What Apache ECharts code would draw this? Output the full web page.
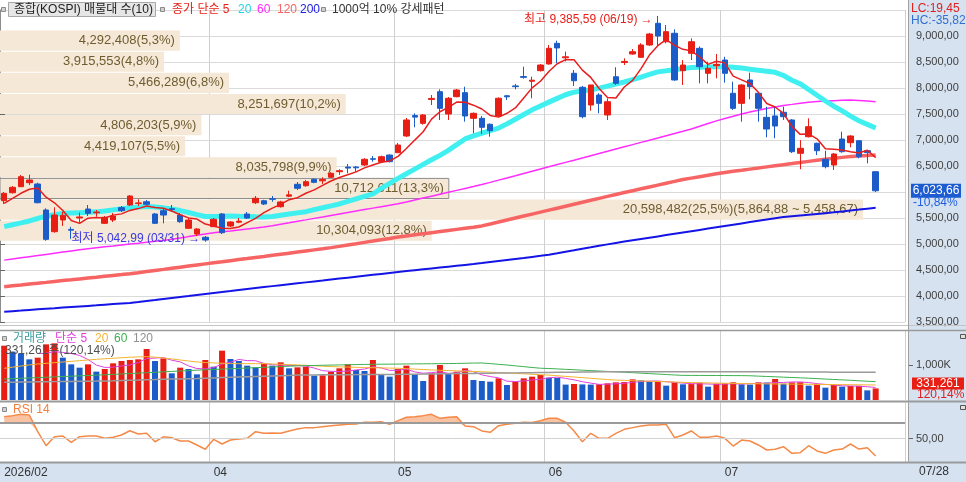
<!DOCTYPE html>
<html><head><meta charset="utf-8">
<script src="https://cdn.jsdelivr.net/npm/echarts@6/dist/echarts.min.js"></script>
<style>
html,body{margin:0;padding:0;background:#fff;}
#wrap{position:relative;width:966px;height:482px;background:#fff;overflow:hidden;}
#panelR{position:absolute;left:908px;top:0;width:58px;height:482px;background:#d6e2f0;}
#panelB{position:absolute;left:0;top:463px;width:966px;height:19px;background:#d6e2f0;}
#c{position:absolute;left:0;top:0;width:966px;height:482px;}
</style>
</head><body>
<div id="wrap"><div id="panelR"></div><div id="panelB"></div><div id="c"></div></div>
<script>
// ---------------- data ----------------
const dates = [
'2026/02/24','2026/02/25','2026/02/26','2026/02/27',
'2026/03/03','2026/03/04','2026/03/05','2026/03/06','2026/03/09','2026/03/10','2026/03/11','2026/03/12','2026/03/13','2026/03/16','2026/03/17','2026/03/18','2026/03/19','2026/03/20','2026/03/23','2026/03/24','2026/03/25','2026/03/26','2026/03/27','2026/03/30','2026/03/31',
'2026/04/01','2026/04/02','2026/04/03','2026/04/06','2026/04/07','2026/04/08','2026/04/09','2026/04/10','2026/04/13','2026/04/14','2026/04/15','2026/04/16','2026/04/17','2026/04/20','2026/04/21','2026/04/22','2026/04/23','2026/04/24','2026/04/27','2026/04/28','2026/04/29','2026/04/30',
'2026/05/04','2026/05/06','2026/05/07','2026/05/08','2026/05/11','2026/05/12','2026/05/13','2026/05/14','2026/05/15','2026/05/18','2026/05/19','2026/05/20','2026/05/21','2026/05/22','2026/05/26','2026/05/27','2026/05/28','2026/05/29',
'2026/06/01','2026/06/02','2026/06/04','2026/06/05','2026/06/08','2026/06/09','2026/06/10','2026/06/11','2026/06/12','2026/06/15','2026/06/16','2026/06/17','2026/06/18','2026/06/19','2026/06/22','2026/06/23','2026/06/24','2026/06/25','2026/06/26','2026/06/29','2026/06/30',
'2026/07/01','2026/07/02','2026/07/03','2026/07/06','2026/07/07','2026/07/08','2026/07/09','2026/07/10','2026/07/13','2026/07/14','2026/07/15','2026/07/16','2026/07/20','2026/07/21','2026/07/22','2026/07/23','2026/07/24','2026/07/27','2026/07/28'];

const open = [5833,5986,6102,6179,6154,5654,5237,5461,5280,5500, 5673,5600,5398,5461,5700,5750,5780,5813,5577,5640,
5680,5557,5302,5192,5129,5333,5577,5346,5420,5577, 5794,5832,5870,5717,5920,6148,6121,6244,6215,6283,
6390,6480,6480,6519,6640,6583,6711,6756,7077,7470, 7321,7780,7929,7500,7833,7910,7417,7417,7302,7462,
7850,8040,8220,8130,8333,8462,8859,8580,8283,8013, 7673,7865,7481,8217,8490,8654,8590,8827,9244,8890,
9052,8333,8667,8763,8283,8430,8538,7898,7705,8154, 7898,7436,7462,7533,7385,6744,7063,6936,6629,6519,
7019,6948,6986,6794,6390];
const close = [5975,6090,6294,6231,5794,5090,5557,5550,5265,5520, 5590,5615,5513,5538,5640,5923,5790,5763,5398,5557,
5665,5429,5461,5288,5077,5475,5217,5423,5440,5500, 5879,5769,5860,5808,5945,6071,6198,6186,6240,6359,
6410,6460,6465,6629,6630,6679,6583,6904,7385,7440, 7481,7800,7609,7802,7961,7462,7513,7244,7179,7802,
7830,8025,8205,8150,8442,8763,8770,8600,8140,7448, 8058,7705,7736,8090,8510,8698,8827,9038,9000,9083,
8154,8442,8890,8410,8379,8455,8283,7609,8058,8025, 7609,7211,7269,7448,6775,6840,7256,6794,6487,6731,
6775,7077,6679,6756.06,6023.66];
const low = [5769,5971,6096,6134,5783,5063,5217,5346,5100,5410, 5538,5525,5384,5423,5615,5731,5731,5750,5384,5398,
5621,5410,5288,5154,5042.99,5327,5192,5327,5400,5481, 5769,5750,5813,5700,5900,6038,6100,6170,6154,6270,
6327,6360,6390,6500,6583,6570,6570,6750,7058,7244, 7294,7673,7385,7385,7820,7352,7129,7115,7063,7450,
7769,7975,8180,7802,8320,8450,8475,8510,8038,7417, 7563,7513,7385,8058,8442,8640,8580,8810,8808,8860,
8140,8058,8538,8090,8090,8186,8102,7577,7352,7782, 7352,7052,7033,7385,6750,6437,7050,6711,6455,6423,
6756,6860,6648,6552,6000];
const high = [6000,6115,6327,6333,6179,5686,5706,5621,5330,5602, 5750,5654,5538,5596,5731,5942,5860,5846,5596,5686,
5750,5596,5500,5307,5154,5500,5596,5440,5500,5615, 5923,5850,5923,5830,6025,6192,6230,6260,6283,6380,
6437,6538,6500,6650,6692,6700,6720,6942,7423,7513, 7500,7865,7975,7827,7980,8025,7530,7462,7320,7820,
7865,8077,8410,8217,8460,8827,8910,8700,8346,8040, 8060,7900,7800,8398,8571,8750,8860,9060,9385.59,9211,
9129,8538,8955,8800,8506,8654,8600,8121,8070,8294, 7920,7640,7640,7640,7400,6999,7417,6950,6794,6750,
7160,7090,7000,6810,6400];

// moving averages (5-day is taken from the closes)
const ma5Head = [5782,5879,5975,6052];
const ma20 = [5333,5370,5406,5443,5490,5535,5565,5585,5596,5603, 5610,5618,5635,5656,5677,5698,5712,5720,5712,5695,
5672,5643,5605,5566,5530,5530,5535,5538,5533,5529, 5524,5520,5530,5553,5576,5599,5622,5660,5697,5733,
5770,5818,5866,5914,5962,6070,6166,6262,6350,6440, 6530,6620,6705,6800,6910,7020,7080,7130,7180,7230,
7310,7400,7490,7580,7655,7728,7800,7870,7920,7945, 7960,7998,8037,8076,8115,8162,8211,8260,8310,8330,
8352,8373,8395,8400,8404,8407,8410,8400,8383,8362, 8342,8322,8302,8240,8150,8080,7970,7860,7750,7650,
7560,7460,7370,7300,7230];
const ma60 = [4690,4712,4734,4756,4778,4800,4822,4844,4866,4888, 4910,4928,4945,4962,4980,4998,5015,5033,5051,5068,
5090,5116,5142,5167,5193,5215,5234,5252,5271,5289, 5307,5326,5350,5379,5407,5436,5464,5493,5521,5550,
5578,5606,5634,5662,5690,5718,5746,5775,5809,5846, 5883,5920,5957,5994,6031,6068,6105,6143,6185,6228,
6271,6313,6356,6399,6442,6484,6527,6570,6612,6655, 6698,6741,6783,6826,6869,6911,6954,6997,7039,7082,
7125,7167,7213,7264,7316,7368,7415,7457,7499,7540, 7572,7604,7636,7665,7685,7706,7727,7742,7750,7757,
7764,7768,7760,7750,7736];
const ma120 = [4179,4196,4212,4229,4246,4262,4279,4296,4312,4329, 4346,4362,4379,4396,4412,4429,4449,4470,4491,4512,
4534,4555,4576,4597,4618,4639,4659,4680,4700,4720, 4741,4761,4782,4803,4824,4845,4866,4887,4908,4930,
4954,4980,5005,5031,5056,5082,5107,5133,5155,5176, 5197,5218,5239,5260,5281,5302,5323,5348,5385,5423,
5461,5499,5537,5575,5613,5651,5689,5727,5765,5802, 5840,5878,5916,5953,5989,6025,6061,6097,6133,6169,
6205,6239,6267,6295,6323,6351,6376,6397,6418,6440, 6461,6483,6504,6525,6546,6568,6589,6610,6629,6648,
6666,6682,6692,6701,6711];
const ma200 = [3698,3709,3720,3732,3743,3754,3765,3777,3788,3799, 3810,3821,3833,3844,3855,3866,3883,3902,3921,3941,
3960,3979,3998,4018,4037,4056,4075,4094,4114,4133, 4152,4171,4190,4208,4226,4244,4262,4280,4298,4317,
4335,4353,4371,4389,4407,4425,4443,4461,4479,4496, 4513,4530,4547,4564,4581,4598,4615,4633,4653,4673,
4693,4713,4732,4752,4772,4794,4822,4851,4879,4908, 4936,4965,4993,5021,5046,5071,5096,5121,5146,5171,
5196,5221,5246,5271,5296,5321,5346,5371,5396,5421, 5446,5471,5496,5518,5533,5548,5563,5578,5593,5609,
5627,5645,5662,5680,5698];

const volume = [1552000,1381000,1333000,1162000,1210000,1590000,1619000,1210000,1019000,924000,
1019000,810000,886000,1048000,1114000,1143000,1162000,1457000,1114000,1190000,
762000,924000,886000,733000,1143000,952000,1410000,1171000,1114000,981000,
933000,1029000,981000,1076000,905000,933000,952000,695000,705000,810000,
905000,1019000,857000,829000,1143000,733000,667000,886000,981000,743000,
543000,762000,1000000,762000,810000,905000,571000,543000,524000,619000,
429000,524000,619000,667000,714000,638000,630000,440000,458000,445000,
440000,448000,476000,505000,512000,590000,562000,524000,530000,410000,
505000,448000,455000,495000,381000,467000,475000,505000,448000,440000,
505000,498000,600000,467000,505000,510000,410000,448000,352000,429000,
381000,400000,405000,275730,331261];
const vma20 = [905,938,970,1003,1029,1048,1067,1086,1105,1124, 1143,1162,1178,1193,1208,1223,1232,1238,1225,1200,
1172,1143,1115,1086,1070,1060,1050,1041,1038,1038, 1038,1038,1029,1019,1010,1001,990,978,966,954,
948,941,934,926,922,917,912,907,895,883, 871,859,850,842,833,824,815,807,795,783,
771,759,747,735,723,711,693,675,657,639, 620,602,584,569,561,553,545,537,529,521,
513,503,498,493,488,484,479,474,469,466, 464,461,459,457,454,452,449,447,444,442,
439,437,434,432,429];
const vma60 = [600,610,620,630,640,650,660,670,680,690, 700,710,720,732,744,756,768,780,792,804,
816,828,840,852,862,872,883,893,903,914, 924,934,945,955,966,976,982,987,992,997,
1002,1007,1012,1017,1020,1023,1025,1027,1030,1032, 1034,1036,1038,1041,1044,1050,1055,1058,1040,1020,
1000,976,953,929,908,900,888,876,864,852, 840,828,816,806,793,780,767,754,741,728,
715,704,703,702,701,700,698,697,696,692, 682,672,663,653,643,633,623,611,599,587,
575,563,549,536,524];
const vma120 = [505,508,512,515,518,521,525,528,531,534, 538,541,546,552,559,565,571,578,584,591,
597,603,610,616,624,632,640,648,656,664, 672,680,687,695,703,711,716,717,719,720,
722,723,725,727,728,730,731,733,736,739, 742,745,748,751,754,757,760,763,766,769,
772,775,778,781,784,787,790,793,796,799, 802,805,808,810,810,810,810,810,810,810,
810,810,810,810,810,810,810,810,810,809, 808,806,805,804,802,801,800,798,797,796,
794,793,792,791,790];

const rsi = [76.9,78.2,79.8,79,58.4,41.1,52.2,53.1,45.3,52.2, 53.1,53.1,50.2,51.5,54.3,59.6,55.6,56.4,46,52,
51,46.9,46.9,42,36.7,49,43.2,48.1,49.4,50.2, 58.4,56.4,56.8,56.4,59.3,61.7,63.4,63.4,64.6,65.8,
66.7,67.5,67.9,70,70,70.7,67.5,72,76.2,76.9, 78.2,79.8,74.9,76.2,76.9,65.4,64.6,59.3,57.6,65.8,
67.5,68.8,70,69.6,72,74.9,74.9,70,59.3,46, 56.4,50.2,50.2,56.4,61.3,63.4,65.4,66.7,66.7,67.5,
51,54.3,59.3,51.5,51.5,53.1,50.2,40.7,48.1,46.9, 42,35.8,36.7,39.9,31.7,32.5,41.1,34.6,31.7,35.8,
37,43.2,37,38.6,28.4];

// volume-at-price (매물대) bands
const profileLow  = [8708.35,8302.14,7895.93,7489.72,7083.51,6677.30,6271.09,5864.88,5458.67,5052.46];
const profileHigh = [9114.56,8708.35,8302.14,7895.93,7489.72,7083.51,6677.30,6271.09,5864.88,5458.67];
const profileVol  = [4292408,3915553,5466289,8251697,4806203,4419107,8035798,10712611,20598482,10304093];

// x tick labels
const xTickIndex  = [0,25,47,65,86];
const xTickLabels = ['2026/02','04','05','06','07'];

// ---------------- helpers ----------------
const FONT = '"Liberation Sans", "Noto Sans CJK KR", sans-serif';
const RED = '#e81e14', BLUE = '#1c5cc8';
function fmtNum(v, d) {
  const s = Math.abs(v).toFixed(d);
  let [ip, fp] = s.split('.');
  ip = ip.replace(/\B(?=(\d{3})+(?!\d))/g, ',');
  return (v < 0 ? '-' : '') + ip + (fp ? ',' + fp : '');
}
const N = dates.length;
const cats = dates.concat(['', '', '']);
const lastClose = close[N-1], prevClose = close[N-2];
const lastVol = volume[N-1], prevVol = volume[N-2];
let hiIdx = 0, loIdx = 0;
high.forEach((h,i)=>{ if (h > high[hiIdx]) hiIdx = i; });
low.forEach((l,i)=>{ if (l < low[loIdx]) loIdx = i; });
const maxHigh = high[hiIdx], minLow = low[loIdx];
const ohlc = dates.map((_,i)=>[open[i], close[i], low[i], high[i]]);
const mean = a => a.reduce((s,x)=>s+x,0)/a.length;
const ma5 = close.map((c,i)=> i<4 ? ma5Head[i] : mean(close.slice(i-4,i+1)));
const vma5 = volume.map((v,i)=> i<4 ? null : mean(volume.slice(i-4,i+1)));
const K = a => a.map(v => v*1000);
const volBars = volume.map((v,i)=>({value:v, itemStyle:{color:(i===0 || v>volume[i-1]) ? RED : BLUE}}));
const rsiBase = rsi.map(v=>Math.min(v,70));
const rsiOver = rsi.map(v=>Math.max(v-70,0));
const profTotal = profileVol.reduce((a,b)=>a+b,0);
let profMax = 0; profileVol.forEach((v,i)=>{ if (v>profileVol[profMax]) profMax=i; });
const splitIdx = xTickIndex.filter(i => i > 0);

function catAxis(gi, showLabel){
  return {type:'category', gridIndex:gi, data:cats, boundaryGap:true,
    axisLine:{show:false}, axisTick:{show:false},
    axisLabel: showLabel ? {show:true, interval:(i)=>xTickIndex.includes(i),
      formatter:(v,i)=>{const k=xTickIndex.indexOf(i); return k>=0?xTickLabels[k]:'';},
      align:'left', margin:5, color:'#333', fontSize:12, fontFamily:FONT} : {show:false},
    splitLine:{show:true, interval:(i)=>splitIdx.includes(i), lineStyle:{color:'#d0d0d0', width:1}}};
}
function lineS(data, color, width, xi, yi, z){
  return {type:'line', data, xAxisIndex:xi, yAxisIndex:yi, showSymbol:false, symbol:'none',
    lineStyle:{color, width}, itemStyle:{color}, z, silent:true, connectNulls:false};
}
const axisCommon = {axisLine:{show:true, lineStyle:{color:'#8c8c8c'}},
  axisTick:{show:true, length:5, lineStyle:{color:'#666'}}};

const option = {
  animation:false,
  grid:[
    {left:0, right:61, top:10, height:312},
    {left:0, right:61, top:330, height:70},
    {left:0, right:61, top:402.5, height:59.5}
  ],
  xAxis:[
    catAxis(0,false), catAxis(1,false), catAxis(2,true),
    {type:'value', gridIndex:0, min:0, max:21600000, show:false, splitLine:{show:false}}
  ],
  yAxis:[
    Object.assign({type:'value', gridIndex:0, position:'right', offset:3, min:3500, max:9500, interval:500,
      axisLabel:{formatter:v=>fmtNum(v,2), color:'#404040', fontSize:11, fontFamily:FONT, margin:8, showMaxLabel:false},
      splitLine:{show:true, lineStyle:{color:'#dadada'}}}, axisCommon),
    Object.assign({type:'value', gridIndex:1, position:'right', offset:3, min:0, max:2000000, interval:1000000,
      axisLabel:{formatter:v=>fmtNum(v/1000,0)+'K', color:'#404040', fontSize:11, fontFamily:FONT, margin:8, showMinLabel:false, showMaxLabel:false},
      splitLine:{show:false}}, axisCommon),
    {type:'value', gridIndex:2, position:'right', offset:3, min:21, max:94.4,
      axisLine:{show:true, lineStyle:{color:'#8c8c8c'}},
      axisTick:{show:true, length:5, customValues:[50], lineStyle:{color:'#666'}},
      axisLabel:{customValues:[50], formatter:v=>(Math.abs(v-50)<1e-6?fmtNum(v,2):''), color:'#404040', fontSize:11, fontFamily:FONT, margin:8},
      splitLine:{show:false}}
  ],
  series:[
    {type:'custom', xAxisIndex:3, yAxisIndex:0, z:1, silent:true,
      data: profileLow.map((lo,i)=>[lo, profileHigh[i], profileVol[i]]),
      encode:{x:2, y:[0,1]},
      renderItem:(params, api)=>{
        const i = params.dataIndex;
        const lo = api.value(0), hi = api.value(1), vol = api.value(2);
        const a = api.coord([0, hi]);
        const b = api.coord([vol, lo]);
        let txt = fmtNum(vol,0) + '(' + fmtNum(vol/profTotal*100,1) + '%)';
        if (i === profMax) txt += '(' + fmtNum(hi,2) + ' ~ ' + fmtNum(lo,2) + ')';
        const cur = lastClose >= lo && lastClose < hi;
        return {type:'group', children:[
          {type:'rect', shape:{x:a[0], y:a[1]+0.5, width:b[0]-a[0], height:b[1]-a[1]-1},
            style:{fill:'#f5e8d6', stroke: cur ? '#8c8c8c' : null, lineWidth:1}},
          {type:'text', x:b[0]-5, y:(a[1]+b[1])/2,
            style:{text:txt, align:'right', verticalAlign:'middle', fill:'#6e5c30', fontSize:13, fontFamily:FONT}}
        ]};
      }},
    lineS(ma200, '#1414e6', 2, 0, 0, 2),
    lineS(ma120, '#f76464', 3.5, 0, 0, 2),
    lineS(ma60, '#ff2cff', 1.5, 0, 0, 2),
    lineS(ma20, '#40f0f0', 5, 0, 0, 2),
    {type:'candlestick', xAxisIndex:0, yAxisIndex:0, data:ohlc, barWidth:6, z:3, silent:true,
      itemStyle:{color:RED, color0:BLUE, borderColor:RED, borderColor0:BLUE, borderWidth:1},
      markPoint:{silent:true, symbol:'circle', symbolSize:0, animation:false, data:[
        {coord:[hiIdx, maxHigh], itemStyle:{color:'transparent'},
          label:{show:true, position:'left', distance:5, offset:[0,4], color:'#e8201a', fontSize:12, fontFamily:FONT,
            formatter:'최고 ' + fmtNum(maxHigh,2) + ' (' + dates[hiIdx].slice(5) + ') →'}},
        {coord:[loIdx, minLow], itemStyle:{color:'transparent'},
          label:{show:true, position:'left', distance:5, offset:[0,-3], color:'#3a3ae0', fontSize:12, fontFamily:FONT,
            formatter:'최저 ' + fmtNum(minLow,2) + ' (' + dates[loIdx].slice(5) + ') →'}}
      ]}},
    lineS(ma5, '#e81e1e', 1.5, 0, 0, 4),
    {type:'bar', xAxisIndex:1, yAxisIndex:1, data:volBars, barWidth:6, z:2, silent:true},
    lineS(vma5, '#e040e0', 1, 1, 1, 3),
    lineS(K(vma20), '#f2b430', 1, 1, 1, 3),
    lineS(K(vma60), '#3cb050', 1, 1, 1, 3),
    lineS(K(vma120), '#9a9a9a', 1.5, 1, 1, 3),
    {type:'line', xAxisIndex:2, yAxisIndex:2, data:rsiBase, stack:'rsi', showSymbol:false, symbol:'none',
      lineStyle:{opacity:0}, silent:true, z:2},
    {type:'line', xAxisIndex:2, yAxisIndex:2, data:rsiOver, stack:'rsi', showSymbol:false, symbol:'none',
      lineStyle:{opacity:0}, areaStyle:{color:'#f9c2a0', opacity:1}, silent:true, z:2},
    {type:'line', xAxisIndex:2, yAxisIndex:2, data:rsi, showSymbol:false, symbol:'none',
      lineStyle:{color:'#f58a48', width:1.5}, itemStyle:{color:'#f58a48'}, silent:true, z:3,
      markLine:{silent:true, symbol:'none', animation:false, label:{show:false}, data:[
        {yAxis:70, lineStyle:{color:'#9a9a9a', width:2, type:'solid'}},
        {yAxis:50, lineStyle:{color:'#d2d2d2', width:1, type:'solid'}}
      ]}}
  ]
};

const chart = echarts.init(document.getElementById('c'), null, {renderer:'canvas'});
chart.setOption(option);

const yP = chart.convertToPixel({yAxisIndex:0}, lastClose);
const yV = chart.convertToPixel({yAxisIndex:1}, lastVol);
const T = (x,y,text,fill,extra)=>({type:'text', x, y, silent:true, z:20,
  style:Object.assign({text, fill, fontSize:12, fontFamily:FONT, verticalAlign:'middle', align:'left'}, extra||{})});
const R = (x,y,w,h,fill,stroke)=>({type:'rect', silent:true, z:19, shape:{x,y,width:w,height:h}, style:{fill, stroke:stroke||null, lineWidth:1}});
const L = (x1,y1,x2,y2,color,w)=>({type:'line', silent:true, z:18, shape:{x1,y1,x2,y2}, style:{stroke:color, lineWidth:w}});
const sq = (x,y)=>R(x+0.5,y+0.5,4,4,'#d0d0d0','#8a8a8a');

chart.setOption({graphic:[
  L(0,325.5,966,325.5,'#c4c4c4',1),
  L(0,330.5,966,330.5,'#9a9a9a',1.5),
  L(0,401.5,966,401.5,'#9a9a9a',2),
  L(0,462.5,966,462.5,'#9a9a9a',2),
  L(908.5,0,908.5,463,'#a0a0a0',1),
  // top legend
  sq(1,7),
  R(8.5,2.5,147,14,'#e6e6e6','#a8a8a8'),
  T(14,9.5,'종합(KOSPI) 매물대 수(10)','#222'),
  sq(160,7),
  T(172,9.5,'종가 단순 5',RED),
  T(238,9.5,'20','#22d8e0'),
  T(257,9.5,'60','#ff2cff'),
  T(277,9.5,'120','#f76464'),
  T(300,9.5,'200','#2020e0'),
  sq(321,7),
  T(332,9.5,'1000억 10% 강세패턴','#333'),
  // top right
  T(911,9,'LC:' + fmtNum((lastClose/minLow-1)*100,2),'#e02020'),
  T(911,21,'HC:' + fmtNum((lastClose/maxHigh-1)*100,2),'#3070d0'),
  // last price
  R(911,yP-7,50,14,'#1c5cd0'),
  T(936,yP,fmtNum(lastClose,2),'#ffffff',{align:'center'}),
  T(913,yP+12,fmtNum((lastClose/prevClose-1)*100,2)+'%','#2060e0'),
  // volume legend
  sq(2,336),
  T(13,339,'거래량','#3a9ea0'),
  T(55,339,'단순 5','#e040e0'),
  T(95,339,'20','#f2b430'),
  T(114,339,'60','#3cb050'),
  T(133,339,'120','#909090'),
  T(5,351,fmtNum(lastVol,0)+'주('+fmtNum(lastVol/prevVol*100,2)+'%)','#505050'),
  R(912,yV-11,52,12,RED),
  T(938,yV-5,fmtNum(lastVol,0),'#ffffff',{align:'center'}),
  T(917,yV+6.5,fmtNum(lastVol/prevVol*100,2)+'%','#e02020'),
  R(960.5,334.5,5,4,'#e0e0e0','#555'),
  // rsi legend
  sq(2,407),
  T(13,410,'RSI 14','#f08040'),
  R(960.5,405.5,5,4,'#e0e0e0','#555'),
  // last date
  T(919,472,dates[N-1].slice(5),'#333')
]});
</script>
</body></html>
